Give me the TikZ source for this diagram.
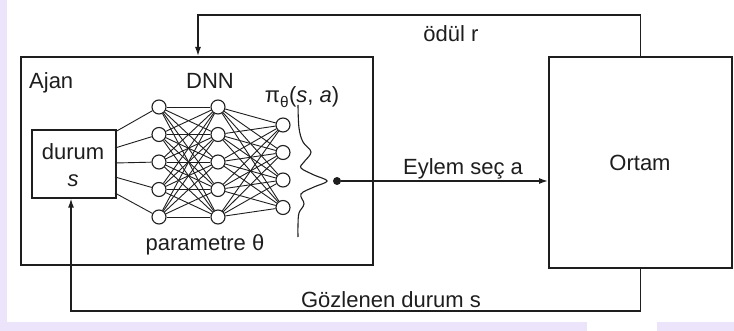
\documentclass[tikz,border=0pt]{standalone}
\usepackage{fontspec}
\setmainfont{Liberation Sans}
\usetikzlibrary{arrows.meta,calc}
\definecolor{lav}{RGB}{236,228,250}
\definecolor{ink}{RGB}{30,30,30}
\begin{document}
\begin{tikzpicture}[x=1pt,y=-1pt,
  lbl/.style={font=\fontsize{22}{26}\selectfont, inner sep=0pt, text=ink},
  boxs/.style={rectangle, draw=ink, line width=1.6pt, inner sep=0pt},
  neuron/.style={circle, draw=ink, fill=white, line width=1.1pt, minimum size=14pt, inner sep=0pt},
  syn/.style={draw=ink, line width=0.9pt},
  arr/.style={draw=ink, line width=1.4pt, -{Latex[length=9pt,width=6pt]}},
  wave/.style={draw=ink, line width=1.1pt},
]
% background
\fill[lav] (0,0) rectangle (734,331);
\fill[white] (7,0) rectangle (734,322);
\fill[white] (587,322) rectangle (657,331);
\useasboundingbox (0,0) rectangle (734,331);

% boxes
\node[boxs, minimum width=352pt, minimum height=208pt, anchor=north west] (ajan) at (20,56) {};
\node[boxs, minimum width=183pt, minimum height=211pt, anchor=north west] (ortam) at (548,56) {};
\node[boxs, minimum width=84pt, minimum height=68pt, anchor=north west] (durum) at (31,129) {};

% fan coordinates on durum box
\coordinate (f1) at (115,132);
\coordinate (f2) at (115,148);
\coordinate (f3) at (115,163);
\coordinate (f4) at (115,177);
\coordinate (f5) at (115,193);

% neurons
\foreach \i/\y in {1/107,2/134.5,3/162,4/189.5,5/217} {
  \node[neuron] (a\i) at (159,\y) {};
  \node[neuron] (b\i) at (218,\y) {};
}
\foreach \i/\y in {1/125,2/152.5,3/180,4/207.5} {
  \node[neuron] (c\i) at (283,\y) {};
}
% synapses
\foreach \i in {1,...,5} { \draw[syn] (f\i) -- (a\i); }
\foreach \i in {1,...,5} { \foreach \j in {1,...,5} { \draw[syn] (a\i) -- (b\j); } }
\foreach \i in {1,...,5} { \foreach \j in {1,...,4} { \draw[syn] (b\i) -- (c\j); } }

% distribution curve
\draw[wave] plot[smooth, tension=0.6] coordinates {(298,105) (299,128) (303,142) (311,152) (304,162) (301,168) (314,175) (327,181) (314,187) (301,194) (304,204) (299,213) (298,225) (298,237)};

% action
\node[circle, fill=ink, minimum size=8pt, inner sep=0pt] (dot) at (337,181) {};
\draw[arr] (dot) -- (dot -| ortam.west);

% reward
\coordinate (rtop) at (198,15);
\draw[arr] (ortam.north) |- (rtop) -- (rtop |- ajan.north);

% observation
\coordinate (obot) at (71,311);
\draw[arr] (ortam.south) |- (obot) -- (obot |- durum.south);

% labels
\node[lbl, anchor=base west] (tajan) at (29,89) {Ajan};
\node[lbl, anchor=base] (tdnn) at (210,89) {DNN};
\node[lbl, anchor=base] (tpi) at (302,103) {π\textsubscript{θ}(\textit{s}, \textit{a})};
\node[lbl, anchor=base] (tdurum) at (73,160) {durum};
\node[lbl, anchor=base] (ts) at (73,187) {\textit{s}};
\node[lbl, anchor=base] (tparam) at (205,251) {parametre θ};
\node[lbl, anchor=base] (todul) at (451,42) {ödül r};
\node[lbl, anchor=base] (teylem) at (463,175) {Eylem seç a};
\node[lbl, anchor=base] (tortam) at (640,171) {Ortam};
\node[lbl, anchor=base] (tgoz) at (391,307) {Gözlenen durum s};
\end{tikzpicture}
\end{document}
